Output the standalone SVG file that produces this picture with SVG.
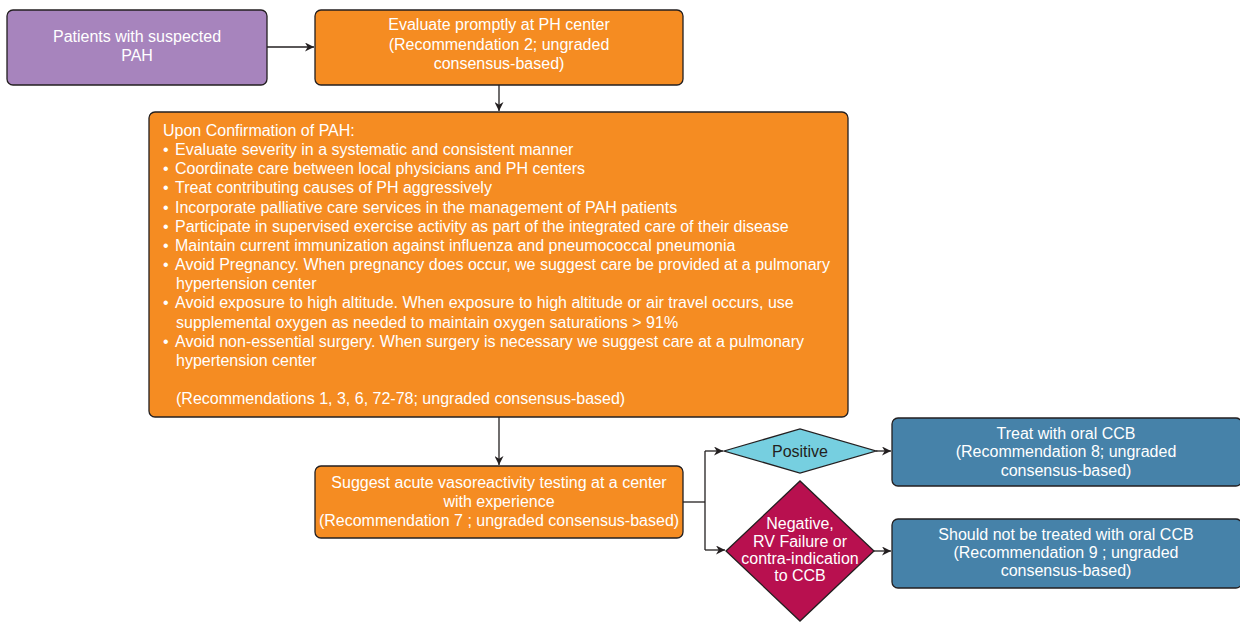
<svg xmlns="http://www.w3.org/2000/svg" width="1240" height="623" viewBox="0 0 1240 623">
<defs>
<marker id="ah" viewBox="0 0 10 10" refX="10" refY="5" markerWidth="9" markerHeight="9" markerUnits="userSpaceOnUse" orient="auto"><path d="M0,0 L10,5 L0,10 L3,5 Z" fill="#231f20"/></marker>
<style>
.box{stroke:#231f20;stroke-width:1.3}
.t{font-family:"Liberation Sans",Arial,sans-serif;font-size:16px;fill:#fff}
.c{text-anchor:middle}
.conn{fill:none;stroke:#231f20;stroke-width:1.3}
</style>
</defs>
<rect width="1240" height="623" fill="#fff"/>
<g id="connectors">
<path class="conn" d="M267,47 H314" marker-end="url(#ah)"/>
<path class="conn" d="M499,85 V111" marker-end="url(#ah)"/>
<path class="conn" d="M499,417 V465" marker-end="url(#ah)"/>
<path class="conn" d="M683,502 H705"/>
<path class="conn" d="M705,451 V550"/>
<path class="conn" d="M705,451 H723" marker-end="url(#ah)"/>
<path class="conn" d="M705,550 H725" marker-end="url(#ah)"/>
<path class="conn" d="M876,451 H891" marker-end="url(#ah)"/>
<path class="conn" d="M874,551 H891" marker-end="url(#ah)"/>
</g>
<g id="n-patients">
<rect class="box" x="7" y="10" width="260" height="75" rx="6" fill="#a784bd"/>
<text class="t c" x="137" y="42">Patients with suspected</text>
<text class="t c" x="137" y="61">PAH</text>
</g>
<g id="n-evaluate">
<rect class="box" x="315" y="10" width="368" height="75" rx="6" fill="#f58c22"/>
<text class="t c" x="499" y="30">Evaluate promptly at PH center</text>
<text class="t c" x="499" y="50">(Recommendation 2; ungraded</text>
<text class="t c" x="499" y="69">consensus-based)</text>
</g>
<g id="n-confirm">
<rect class="box" x="149" y="112" width="699" height="305" rx="6" fill="#f58c22"/>
<g class="t">
<text x="163" y="136">Upon Confirmation of PAH:</text>
<text y="155"><tspan x="163">•</tspan><tspan x="175">Evaluate severity in a systematic and consistent manner</tspan></text>
<text y="174"><tspan x="163">•</tspan><tspan x="175">Coordinate care between local physicians and PH centers</tspan></text>
<text y="193"><tspan x="163">•</tspan><tspan x="175">Treat contributing causes of PH aggressively</tspan></text>
<text y="213"><tspan x="163">•</tspan><tspan x="175">Incorporate palliative care services in the management of PAH patients</tspan></text>
<text y="232"><tspan x="163">•</tspan><tspan x="175">Participate in supervised exercise activity as part of the integrated care of their disease</tspan></text>
<text y="251"><tspan x="163">•</tspan><tspan x="175">Maintain current immunization against influenza and pneumococcal pneumonia</tspan></text>
<text y="270"><tspan x="163">•</tspan><tspan x="175">Avoid Pregnancy. When pregnancy does occur, we suggest care be provided at a pulmonary</tspan></text>
<text x="176" y="289">hypertension center</text>
<text y="308"><tspan x="163">•</tspan><tspan x="175">Avoid exposure to high altitude. When exposure to high altitude or air travel occurs, use</tspan></text>
<text x="176" y="328">supplemental oxygen as needed to maintain oxygen saturations &gt; 91%</text>
<text y="347"><tspan x="163">•</tspan><tspan x="175">Avoid non-essential surgery. When surgery is necessary we suggest care at a pulmonary</tspan></text>
<text x="176" y="366">hypertension center</text>
<text x="176" y="404">(Recommendations 1, 3, 6, 72-78; ungraded consensus-based)</text>
</g>
</g>
<g id="n-suggest">
<rect class="box" x="315" y="466" width="368" height="72" rx="6" fill="#f58c22"/>
<text class="t c" x="499" y="488">Suggest acute vasoreactivity testing at a center</text>
<text class="t c" x="499" y="507">with experience</text>
<text class="t c" x="499" y="526">(Recommendation 7 ; ungraded consensus-based)</text>
</g>
<g id="n-positive">
<polygon class="box" points="724,451 800,429 876,451 800,473" fill="#76cfe0"/>
<text class="t c" x="800" y="457" style="fill:#231f20">Positive</text>
</g>
<g id="n-negative">
<polygon class="box" points="726,551 800,481 874,551 800,621" fill="#b8104f"/>
<text class="t c" x="800" y="529">Negative,</text>
<text class="t c" x="800" y="547">RV Failure or</text>
<text class="t c" x="800" y="564">contra-indication</text>
<text class="t c" x="800" y="581">to CCB</text>
</g>
<g id="n-treat">
<rect class="box" x="892" y="418" width="350" height="68" rx="6" fill="#4682a9"/>
<text class="t c" x="1066" y="439">Treat with oral CCB</text>
<text class="t c" x="1066" y="457">(Recommendation 8; ungraded</text>
<text class="t c" x="1066" y="476">consensus-based)</text>
</g>
<g id="n-nottreat">
<rect class="box" x="892" y="519" width="350" height="69" rx="6" fill="#4682a9"/>
<text class="t c" x="1066" y="540">Should not be treated with oral CCB</text>
<text class="t c" x="1066" y="558">(Recommendation 9 ; ungraded</text>
<text class="t c" x="1066" y="576">consensus-based)</text>
</g>
</svg>
